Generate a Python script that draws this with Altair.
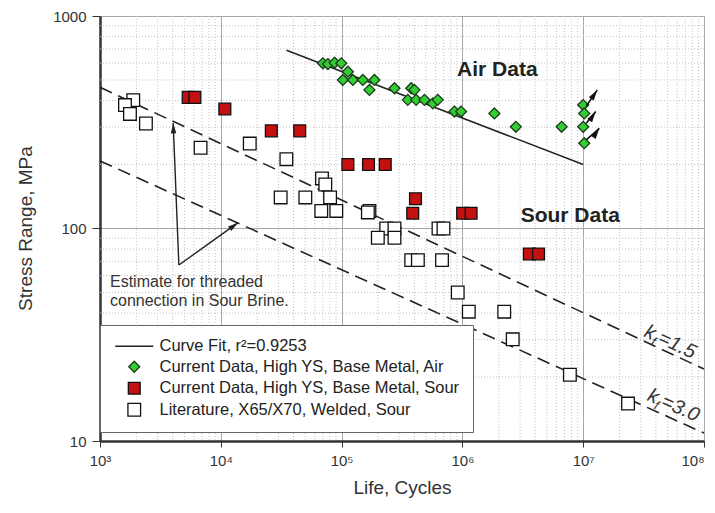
import altair as alt
import pandas as pd

FONT = "Liberation Sans"

# ---------------- data ----------------
air_life = [70000, 77000, 87500, 99400, 112700, 102500, 124000, 150000, 187000, 170000,
            274000, 377000, 401000, 353000, 414000, 485000, 569000, 625000, 859000, 975000,
            1.84e6, 2.77e6, 6.63e6, 1.0e7, 1.02e7, 1.0e7, 1.02e7]
air_stress = [599, 594, 603, 599, 547, 500, 500, 500, 500, 449,
              457, 457, 449, 403, 403, 403, 388, 403, 355, 355,
              348, 301, 301, 381, 348, 301, 252]

sour_life = [5370, 6100, 10800, 26200, 45000, 112700, 167000, 229700, 409000, 388000,
             1.005e6, 1.18e6, 3.58e6, 4.27e6]
sour_stress = [414, 414, 365, 288, 288, 200, 200, 200, 138, 118,
               118, 118, 75.9, 75.9]

lit_life = [1885, 1610, 1770, 2400, 6800, 17370, 34900, 31300, 50100, 68800,
            73300, 80300, 67900, 90400, 170000, 165000, 234000, 274000, 199500, 274000,
            634000, 697000, 377000, 428000, 678000, 915000, 1.13e6, 2.22e6, 2.61e6, 7.76e6,
            2.35e7]
lit_stress = [402, 381, 346, 312, 240, 251, 212, 140, 140, 172,
              161, 140, 121, 121, 121, 119, 100, 100, 90.5, 90.5,
              100, 100, 71, 71, 71, 50, 40.6, 40.6, 30.1, 20.5,
              15.0]

fit_life = [3.5e4, 1.0e7]
fit_stress = [690, 200]

kf15_life = [1e3, 1e8]
kf15_stress = [462, 21.8]
kf30_life = [1e3, 1e8]
kf30_stress = [208, 10.9]

# annotation arrows (base -> tip) and run-out arrows
est_base = (4496, 67.3)
est_tip_life = [4035, 13900]
est_tip_stress = [314, 106.5]
est_tip_angle = [358, 54]

run_tail_life = [1.06e7, 1.06e7, 1.06e7]
run_tail_stress = [377, 313, 261]
run_tip_life = [1.31e7, 1.27e7, 1.36e7]
run_tip_stress = [449, 355, 296]

series_names = ["Curve Fit, r²=0.9253",
                "Current Data, High YS, Base Metal, Air",
                "Current Data, High YS, Base Metal, Sour",
                "Literature, X65/X70, Welded, Sour"]

x_major = [1e3, 1e4, 1e5, 1e6, 1e7, 1e8]
y_major = [10, 100, 1000]
x_minor = [m * 10 ** e for e in range(3, 8) for m in range(2, 10)]
y_minor = [m * 10 ** e for e in range(1, 3) for m in range(2, 10)]

# ---------------- tables ----------------
pts = pd.DataFrame({
    "life": air_life + sour_life + lit_life,
    "stress": air_stress + sour_stress + lit_stress,
    "series": [series_names[1]] * len(air_life) + [series_names[2]] * len(sour_life)
              + [series_names[3]] * len(lit_life),
})
fit_df = pd.DataFrame({"life": fit_life, "stress": fit_stress})
kf_df = pd.DataFrame({"life": kf15_life + kf30_life, "stress": kf15_stress + kf30_stress,
                      "line": ["1.5", "1.5", "3.0", "3.0"]})
est_df = pd.DataFrame({"life": [est_base[0]] * 2, "stress": [est_base[1]] * 2,
                       "life2": est_tip_life, "stress2": est_tip_stress})
est_head = pd.DataFrame({"life": est_tip_life, "stress": est_tip_stress, "ang": est_tip_angle})
run_df = pd.DataFrame({"life": run_tail_life, "stress": run_tail_stress,
                       "life2": run_tip_life, "stress2": run_tip_stress})
run_head = pd.DataFrame({"life": run_tip_life, "stress": run_tip_stress, "ang": [34, 34, 34]})
gx = pd.DataFrame({"life": x_minor})
gy = pd.DataFrame({"stress": y_minor})

# ---------------- scales / axes ----------------
xscale = alt.Scale(type="log", domain=[1e3, 1e8], nice=False)
yscale = alt.Scale(type="log", domain=[10, 1000], nice=False)
xaxis = alt.Axis(values=x_major, title="Life, Cycles",
                 labelExpr="'10' + ['⁰','¹','²','³','⁴','⁵','⁶','⁷','⁸','⁹'][round(log(datum.value)/LN10)]",
                 labelAlign={"condition": {"test": "datum.value >= 1e8", "value": "right"},
                             "value": "center"},
                 grid=True, gridColor="#a8a8a8", gridWidth=1,
                 tickSize=6, tickColor="#333", labelPadding=6,
                 domainColor="#333", domainWidth=2.5,
                 labelFont=FONT, labelFontSize=15, labelColor="#333",
                 titleFont=FONT, titleFontSize=19, titleFontWeight="normal", titleColor="#333",
                 titleX=302, titleY=46, titleBaseline="middle", labelFlush=False)
yaxis = alt.Axis(values=y_major, title="Stress Range, MPa", format="d",
                 grid=True, gridColor="#a8a8a8", gridWidth=1,
                 tickSize=8, tickColor="#333", labelPadding=6,
                 domainColor="#333", domainWidth=2.5,
                 labelFont=FONT, labelFontSize=15, labelColor="#333",
                 titleFont=FONT, titleFontSize=19, titleFontWeight="normal", titleColor="#333",
                 titleX=-75, titleY=212, titleBaseline="middle", titleAlign="center", labelFlush=False)

X = alt.X("life:Q", scale=xscale, axis=xaxis)
Y = alt.Y("stress:Q", scale=yscale, axis=yaxis)

minor_x = alt.Chart(gx).mark_rule(color="#c4c4c4", strokeDash=[1, 2], strokeWidth=1).encode(x=X)
minor_y = alt.Chart(gy).mark_rule(color="#c4c4c4", strokeDash=[1, 2], strokeWidth=1).encode(y=Y)

kf_lines = alt.Chart(kf_df).mark_line(color="#222", strokeWidth=1.6, strokeDash=[13, 7]).encode(
    x=X, y=Y, detail="line:N")
fit_line = alt.Chart(fit_df).mark_line(color="#222", strokeWidth=1.5).encode(x=X, y=Y)

arrow_path = "M0,0L-0.7,2.6L0.7,2.6Z"
est_lines = alt.Chart(est_df).mark_rule(color="#222", strokeWidth=1.4).encode(
    x=X, y=Y, x2="life2:Q", y2="stress2:Q")
est_heads = alt.Chart(est_head).mark_point(shape=arrow_path, filled=True, color="#222",
                                           size=64, opacity=1).encode(
    x=X, y=Y, angle=alt.Angle("ang:Q", scale=None))
run_lines = alt.Chart(run_df).mark_rule(color="#111", strokeWidth=1.6).encode(
    x=X, y=Y, x2="life2:Q", y2="stress2:Q")
run_heads = alt.Chart(run_head).mark_point(shape=arrow_path, filled=True, color="#111",
                                           size=70, opacity=1).encode(
    x=X, y=Y, angle=alt.Angle("ang:Q", scale=None))

legend = alt.Legend(title=None, orient="none", legendX=0, legendY=309,
                    fillColor="white", strokeColor="#666", padding=13,
                    labelFont=FONT, labelFontSize=16.5, labelColor="#222", labelLimit=500,
                    rowPadding=3.5, symbolOffset=13, labelOffset=17,
                    symbolStrokeWidth=1.3)

points = alt.Chart(pts).mark_point(filled=True, strokeWidth=1.3, opacity=1).encode(
    x=X, y=Y,
    shape=alt.Shape("series:N", legend=legend,
                    scale=alt.Scale(domain=series_names,
                                    range=["M-3.8,0L3.8,0", "diamond", "square", "square"])),
    fill=alt.Fill("series:N", legend=legend,
                  scale=alt.Scale(domain=series_names,
                                  range=["#222222", "#33cc33", "#c41010", "#ffffff"])),
    stroke=alt.Stroke("series:N", legend=legend,
                      scale=alt.Scale(domain=series_names,
                                      range=["#222222", "#1a3a1a", "#111111", "#111111"])),
    size=alt.Size("series:N", legend=legend,
                  scale=alt.Scale(domain=series_names, range=[100, 160, 100, 100])),
)

# ---------------- texts ----------------
big_df = pd.DataFrame({"life": [1.945e6, 7.82e6], "stress": [557, 114.6],
                       "txt": ["Air Data", "Sour Data"]})
big_text = alt.Chart(big_df).mark_text(font=FONT, fontSize=21, fontWeight="bold", color="#222",
                                       align="center", baseline="middle").encode(
    x=X, y=Y, text="txt:N")

est_txt_df = pd.DataFrame({"life": [1210, 1210], "stress": [56.0, 45.6],
                           "txt": ["Estimate for threaded", "connection in Sour Brine."]})
est_text = alt.Chart(est_txt_df).mark_text(font=FONT, fontSize=16, color="#333",
                                           align="left", baseline="middle").encode(
    x=X, y=Y, text="txt:N")

kf_lab = pd.DataFrame({"life": [3.13e7, 3.32e7], "stress": [31.2, 15.6],
                       "ang": [25, 24], "val": ["=1.5", "=3.0"]})
kbase = alt.Chart(kf_lab)
k_txt = kbase.mark_text(font=FONT, fontSize=20, fontStyle="italic", color="#333",
                        align="left", baseline="alphabetic").encode(
    x=X, y=Y, angle=alt.Angle("ang:Q", scale=None), text=alt.value("k"))
f_txt = kbase.mark_text(font=FONT, fontSize=13, fontStyle="italic", color="#333",
                        align="left", baseline="alphabetic", dx=10, dy=5).encode(
    x=X, y=Y, angle=alt.Angle("ang:Q", scale=None), text=alt.value("f"))
v_txt = kbase.mark_text(font=FONT, fontSize=20, fontStyle="italic", color="#333",
                        align="left", baseline="alphabetic", dx=15).encode(
    x=X, y=Y, angle=alt.Angle("ang:Q", scale=None), text="val:N")

chart = alt.layer(
    minor_x, minor_y, kf_lines, fit_line, est_lines, est_heads, points,
    run_lines, run_heads, big_text, est_text, k_txt, f_txt, v_txt
).properties(
    width=604, height=425,
    autosize=alt.AutoSizeParams(type="none"),
    padding={"left": 92, "top": 8, "right": 3, "bottom": 62},
).configure_view(stroke="#555", strokeWidth=1.5).configure(background="white")

chart.save("out.html", embed_options={"renderer": "svg", "actions": False})
